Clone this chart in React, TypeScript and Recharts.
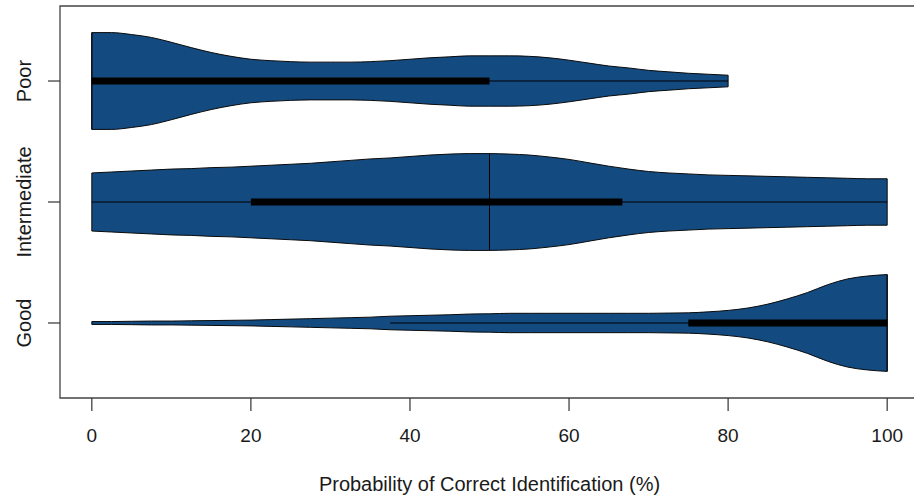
import { ComposedChart, Area, XAxis, YAxis, ReferenceLine, ReferenceArea } from "recharts";

// categories from bottom (y = 1) to top (y = 3)
const CATEGORIES = ["Good", "Intermediate", "Poor"];
const X_TICKS = [0, 20, 40, 60, 80, 100];
const Y_TICKS = [1, 2, 3];

// grid of probability values the densities were read at
const GRID = [
  0, 2.5, 5, 7.5, 10, 12.5, 15, 17.5, 20, 22.5, 25, 27.5, 30, 32.5, 35, 37.5, 40, 42.5, 45, 47.5, 50,
  52.5, 55, 57.5, 60, 62.5, 65, 67.5, 70, 72.5, 75, 77.5, 80, 82.5, 85, 87.5, 90, 92.5, 95, 97.5, 100,
];

// relative density (1 = widest point of that violin); Poor stops at 80
const POOR_DENSITY = [
  1.0, 1.0, 0.96, 0.9, 0.8, 0.69, 0.59, 0.51, 0.45, 0.42, 0.4, 0.39, 0.39, 0.39, 0.4, 0.42, 0.45, 0.48, 0.5, 0.52, 0.52,
  0.52, 0.51, 0.48, 0.43, 0.37, 0.31, 0.27, 0.22, 0.19, 0.16, 0.14, 0.12,
];
const INTERMEDIATE_DENSITY = [
  0.6, 0.62, 0.64, 0.66, 0.68, 0.69, 0.71, 0.72, 0.74, 0.76, 0.78, 0.8, 0.83, 0.86, 0.89, 0.91, 0.94, 0.97, 0.99, 1.0, 1.0,
  0.99, 0.97, 0.93, 0.88, 0.81, 0.74, 0.68, 0.63, 0.6, 0.58, 0.56, 0.55, 0.54, 0.53, 0.52, 0.51, 0.5, 0.49, 0.48, 0.48,
];
const GOOD_DENSITY = [
  0.03, 0.03, 0.035, 0.04, 0.04, 0.045, 0.05, 0.055, 0.06, 0.07, 0.08, 0.09, 0.1, 0.11, 0.12, 0.14, 0.15, 0.16, 0.17, 0.185, 0.19,
  0.2, 0.2, 0.2, 0.2, 0.2, 0.2, 0.2, 0.2, 0.205, 0.21, 0.23, 0.26, 0.31, 0.39, 0.5, 0.63, 0.79, 0.91, 0.97, 1.0,
];

// box plot summaries, same order as CATEGORIES
const WHISKER_LOW = [37.5, 0, 0];
const WHISKER_HIGH = [100, 100, 80];
const Q1 = [75, 20, 0];
const Q3 = [100, 66.7, 50];
const MEDIAN = [100, 50, 0];

const DENSITIES = [GOOD_DENSITY, INTERMEDIATE_DENSITY, POOR_DENSITY];
const KEYS = ["good", "intermediate", "poor"];

const HALF_WIDTH = 0.4;
const FILL = "#134b81";
const FONT = '"Liberation Sans", Arial, Helvetica, sans-serif';

type Row = { p: number } & Record<string, number | [number, number] | null>;

function buildData(): Row[] {
  return GRID.map((p, i) => {
    const row: Row = { p };
    DENSITIES.forEach((dens, c) => {
      const d = dens[i];
      const center = c + 1;
      row[KEYS[c]] = d === undefined ? null : [center - HALF_WIDTH * d, center + HALF_WIDTH * d];
    });
    return row;
  });
}

function densityAt(c: number, p: number): number {
  const dens = DENSITIES[c];
  let i = GRID.findIndex((g) => g >= p);
  if (i < 0) i = dens.length - 1;
  if (i >= dens.length) i = dens.length - 1;
  return dens[i];
}

function CategoryTick(props: any) {
  const { x, y, payload } = props;
  const tx = x - 15;
  return (
    <text
      x={tx}
      y={y}
      transform={`rotate(-90, ${tx}, ${y})`}
      textAnchor="middle"
      fontSize={20}
      fontFamily={FONT}
      fill="#1a1a1a"
    >
      {CATEGORIES[payload.value - 1]}
    </text>
  );
}

export default function App() {
  const data = buildData();

  return (
    <div style={{ position: "absolute", left: 0, top: 0, background: "#fff" }}>
      <ComposedChart width={914} height={501} data={data} margin={{ top: 6, right: -5, bottom: 0, left: 0 }}>
        <XAxis
          dataKey="p"
          type="number"
          domain={[-4, 104]}
          ticks={X_TICKS}
          allowDataOverflow
          axisLine={false}
          tickLine={{ stroke: "#333", strokeWidth: 1.2 }}
          tickSize={13}
          tickMargin={18}
          height={103}
          tick={{ fontSize: 19, fontFamily: FONT, fill: "#1a1a1a" }}
          label={{
            value: "Probability of Correct Identification (%)",
            position: "insideBottom",
            offset: 10,
            fontSize: 20,
            fontFamily: FONT,
            fill: "#1a1a1a",
          }}
        />
        <YAxis
          type="number"
          domain={[0.38, 3.62]}
          ticks={Y_TICKS}
          allowDataOverflow
          axisLine={false}
          tickLine={{ stroke: "#333", strokeWidth: 1.2 }}
          tickSize={12}
          width={60}
          tick={<CategoryTick />}
        />
        <ReferenceArea x1={-4} x2={104} y1={0.38} y2={3.62} fill="none" stroke="#444" strokeWidth={1.3} />
        {KEYS.map((k) => (
          <Area
            key={k}
            dataKey={k}
            type="monotone"
            fill={FILL}
            fillOpacity={1}
            stroke="#0a0a0a"
            strokeWidth={1}
            dot={false}
            activeDot={false}
            isAnimationActive={false}
          />
        ))}
        {CATEGORIES.map((cat, c) => {
          const center = c + 1;
          const dens = DENSITIES[c];
          const start = GRID[0];
          const end = GRID[dens.length - 1];
          const w0 = HALF_WIDTH * dens[0];
          const w1 = HALF_WIDTH * dens[dens.length - 1];
          const wm = HALF_WIDTH * densityAt(c, MEDIAN[c]);
          return [
            <ReferenceLine
              key={cat + "-l"}
              segment={[{ x: start, y: center - w0 }, { x: start, y: center + w0 }]}
              stroke="#0a0a0a"
              strokeWidth={1}
            />,
            <ReferenceLine
              key={cat + "-r"}
              segment={[{ x: end, y: center - w1 }, { x: end, y: center + w1 }]}
              stroke="#0a0a0a"
              strokeWidth={1}
            />,
            <ReferenceLine
              key={cat + "-w"}
              segment={[{ x: WHISKER_LOW[c], y: center }, { x: WHISKER_HIGH[c], y: center }]}
              stroke="#000"
              strokeWidth={1}
            />,
            <ReferenceLine
              key={cat + "-b"}
              segment={[{ x: Q1[c], y: center }, { x: Q3[c], y: center }]}
              stroke="#000"
              strokeWidth={7}
            />,
            <ReferenceLine
              key={cat + "-m"}
              segment={[{ x: MEDIAN[c], y: center - wm }, { x: MEDIAN[c], y: center + wm }]}
              stroke="#000"
              strokeWidth={1}
            />,
          ];
        })}
      </ComposedChart>
    </div>
  );
}
